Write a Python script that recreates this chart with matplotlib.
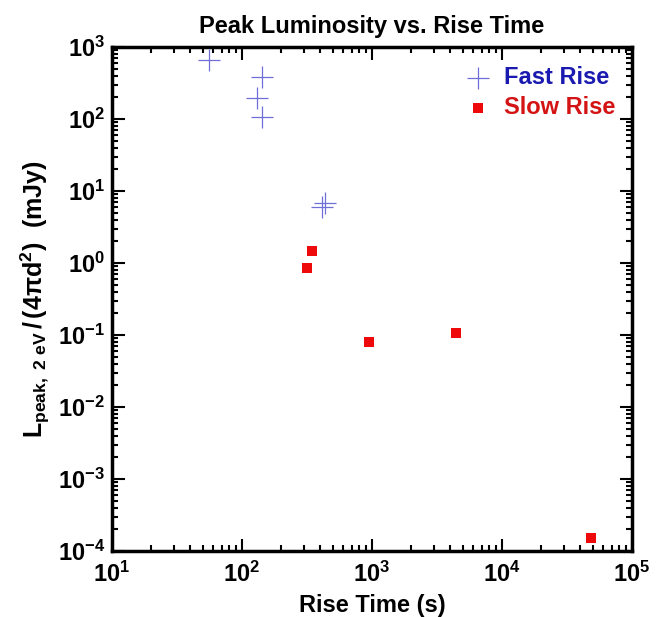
import matplotlib
matplotlib.use("Agg")
import matplotlib.pyplot as plt
from matplotlib.ticker import LogLocator, LogFormatterMathtext, NullFormatter

plt.rcParams['font.family'] = ['Liberation Sans', 'DejaVu Sans']
plt.rcParams['font.weight'] = 'bold'
plt.rcParams['mathtext.fontset'] = 'custom'
plt.rcParams['mathtext.rm'] = 'Liberation Sans:bold'
plt.rcParams['mathtext.it'] = 'Liberation Sans:bold'
plt.rcParams['mathtext.bf'] = 'Liberation Sans:bold'
plt.rcParams['mathtext.sf'] = 'Liberation Sans:bold'
plt.rcParams['axes.unicode_minus'] = False

# Data
fast_rise_time = [55.7, 143, 130, 143, 412, 434]
fast_lum = [660, 387, 198, 106, 6.0, 6.8]
slow_rise_time = [344, 318, 953, 4430, 48400]
slow_lum = [1.48, 0.86, 0.079, 0.105, 1.5e-4]

fig = plt.figure(figsize=(6.6, 6.17), dpi=100)
ax = fig.add_axes([0.1697, 0.107, 0.7879, 0.8168])

ax.scatter(fast_rise_time, fast_lum, marker='+', s=260, linewidths=0.9,
           color='#6f6fd8', label='Fast Rise', zorder=3)
ax.scatter(slow_rise_time, slow_lum, marker='s', s=55, linewidths=0,
           color='#ee0a0a', label='Slow Rise', zorder=3)

ax.set_xscale('log')
ax.set_yscale('log')
ax.set_xlim(1e1, 1e5)
ax.set_ylim(1e-4, 1e3)

for axis in (ax.xaxis, ax.yaxis):
    axis.set_major_locator(LogLocator(base=10, numticks=20))
    axis.set_minor_locator(LogLocator(base=10, subs=range(2, 10), numticks=20))
    axis.set_minor_formatter(NullFormatter())
    axis.set_major_formatter(LogFormatterMathtext())

ax.tick_params(which='both', direction='in', top=True, right=True, width=1.5)
ax.tick_params(which='major', length=9, labelsize=17)
ax.tick_params(axis='x', which='major', pad=8)
ax.tick_params(axis='y', which='major', pad=5)
ax.tick_params(which='minor', length=4.5)
for sp in ax.spines.values():
    sp.set_linewidth(2.5)

ax.set_title('Peak Luminosity vs. Rise Time', fontsize=17, fontweight='bold', pad=10)
ax.set_xlabel('Rise Time (s)', fontsize=17, fontweight='bold', labelpad=5)
ax.set_ylabel(r'$\mathrm{L}_{\mathrm{peak,\ 2\ eV}}\,/\,(4\pi \mathrm{d}^{2})\ \ (\mathrm{mJy})$',
              fontsize=18, labelpad=4)

leg = ax.legend(loc='upper right', frameon=False, fontsize=17, handletextpad=0.5,
                borderaxespad=0.3, labelspacing=0.3, handlelength=1.2,
                bbox_to_anchor=(1.0, 0.995))
for txt, c in zip(leg.get_texts(), ['#1a1ab0', '#d41414']):
    txt.set_color(c)
    txt.set_fontweight('bold')

fig.savefig('out.png', dpi=100)
